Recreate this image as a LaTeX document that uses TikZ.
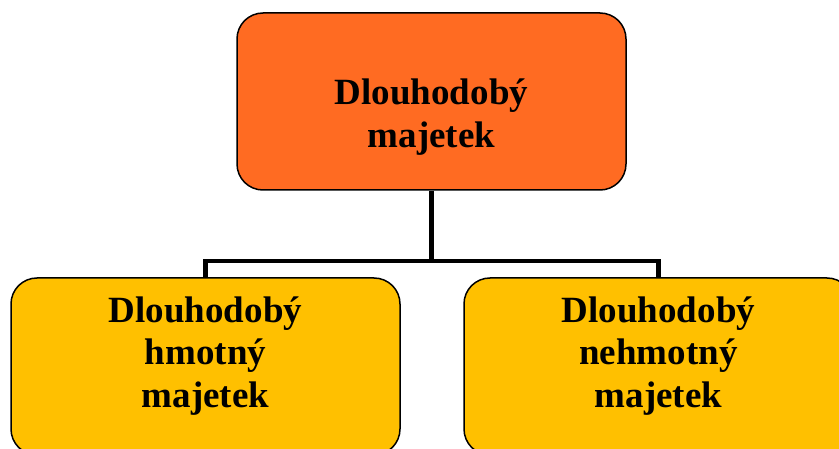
\documentclass[tikz,border=0pt]{standalone}
\usepackage{fontspec}
\setmainfont{Liberation Serif}
\definecolor{topfill}{HTML}{FF6B22}
\definecolor{subfill}{HTML}{FFC000}
\begin{document}
\begin{tikzpicture}[x=1pt,y=-1pt,
  box/.style={draw=black, line width=1.5pt, rounded corners=26pt, minimum width=389pt, minimum height=177pt, inner sep=0pt},
  lbl/.style={align=center, font=\bfseries\fontsize{37}{42.5}\selectfont, inner sep=0pt},
  conn/.style={line width=4.5pt, line join=miter}]
\useasboundingbox (0,0) rectangle (839,449);
\clip (0,0) rectangle (839,449);
\node[box, fill=topfill] (top) at (431.5,101.5) {};
\node[box, fill=subfill] (left) at (205.5,366.5) {};
\node[box, fill=subfill] (right) at (658.5,366.5) {};
\node[lbl] (toptxt) at (431.5,117) {Dlouhodobý\\majetek};
\node[lbl] (lefttxt) at (205.5,356) {Dlouhodobý\\hmotný\\majetek};
\node[lbl] (righttxt) at (658.5,356) {Dlouhodobý\\nehmotný\\majetek};
\coordinate (mid) at (431.5,261);
\draw[conn] (top.south) -- (mid);
\draw[conn] (left.north) |- (mid) -| (right.north);
\end{tikzpicture}
\end{document}
